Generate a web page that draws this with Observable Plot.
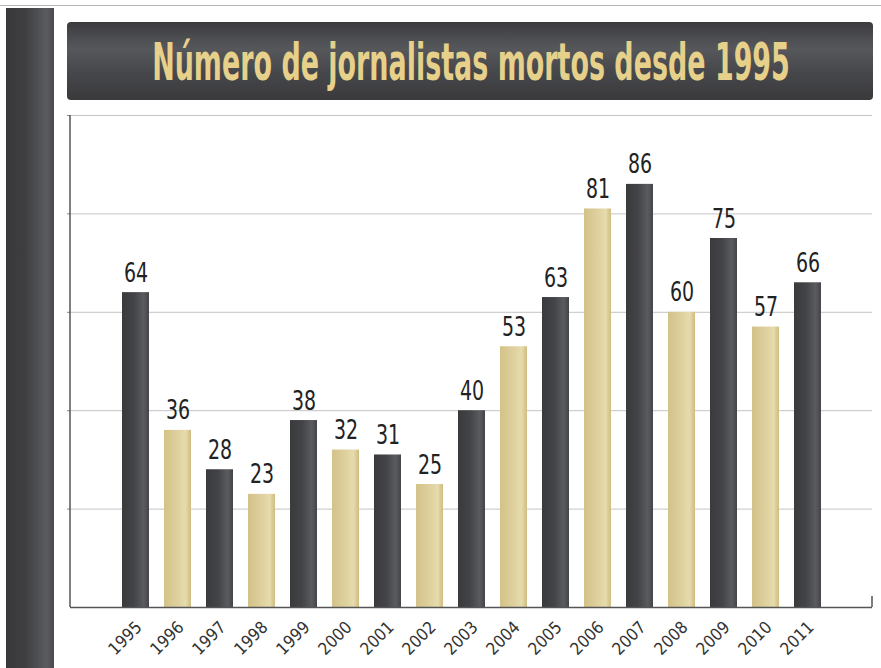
<!DOCTYPE html>
<html>
<head>
<meta charset="utf-8">
<script src="https://cdn.jsdelivr.net/npm/d3@7"></script>
<script src="https://cdn.jsdelivr.net/npm/@observablehq/plot@0.6"></script>
<style>
  html, body { margin: 0; padding: 0; background: #fff; }
  #wrap { position: relative; width: 881px; height: 668px; overflow: hidden; background: #fff; }
  #topline { position: absolute; left: 0; top: 5px; width: 881px; height: 1px; background: #b5b5b5; }
  #sidebar { position: absolute; left: 6px; top: 8px; width: 48px; height: 670px;
    background: linear-gradient(to right, #38383b 0%, #3f3f42 40%, #5b5c60 85%, #4a4a4d 100%); }
  #banner { position: absolute; left: 67px; top: 22px; width: 806px; height: 78px; border-radius: 4px;
    background: linear-gradient(to bottom, #3b3b3e 0%, #505155 25%, #56575b 35%, #46474a 65%, #3a3a3d 100%); }
  #banner svg { position: absolute; left: 0; top: 0; overflow: visible; }
  #chart { position: absolute; left: 0; top: 0; }
</style>
</head>
<body>
<div id="wrap">
  <div id="topline"></div>
  <div id="sidebar"></div>
  <div id="banner">
    <svg width="806" height="78">
      <text id="title" x="0" y="0" text-anchor="middle"
        font-family="'DejaVu Sans Condensed', sans-serif" font-weight="bold" font-size="30" fill="#e6d08a">Número de jornalistas mortos desde 1995</text>
    </svg>
  </div>
  <div id="chart"></div>
</div>
<script>
const years = ["1995","1996","1997","1998","1999","2000","2001","2002","2003","2004","2005","2006","2007","2008","2009","2010","2011"];
const values = [64,36,28,23,38,32,31,25,40,53,63,81,86,60,75,57,66];
const gridTicks = [20,40,60,80,100];

const data = years.map((y, i) => ({year: y, value: values[i], kind: i % 2 === 0 ? "dark" : "gold"}));

const defs = () => {
  const g = d3.create("svg:defs");
  g.html(`
    <linearGradient id="gDark" x1="0" x2="1" y1="0" y2="0">
      <stop offset="0" stop-color="#3a3a3d"/>
      <stop offset="0.45" stop-color="#434447"/>
      <stop offset="0.8" stop-color="#5a5b5f"/>
      <stop offset="1" stop-color="#444548"/>
    </linearGradient>
    <linearGradient id="gGold" x1="0" x2="1" y1="0" y2="0">
      <stop offset="0" stop-color="#d3c288"/>
      <stop offset="0.45" stop-color="#ddcf9c"/>
      <stop offset="0.8" stop-color="#e6dbad"/>
      <stop offset="1" stop-color="#cfbd80"/>
    </linearGradient>`);
  return g.node();
};

const frameLines = (index, scales, values, dims) => {
  const g = d3.create("svg:g");
  const x0 = dims.marginLeft, y0 = dims.marginTop, y1 = dims.height - dims.marginBottom;
  const xr = dims.width - dims.marginRight;
  g.append("line").attr("x1", x0).attr("x2", x0).attr("y1", y0).attr("y2", y1)
    .attr("stroke", "#555").attr("stroke-width", 1.5);
  g.append("line").attr("x1", xr).attr("x2", xr).attr("y1", y1 - 11).attr("y2", y1)
    .attr("stroke", "#555").attr("stroke-width", 1.5);
  return g.node();
};

const font = "'DejaVu Sans Condensed', sans-serif";

const chart = Plot.plot({
  width: 881,
  height: 668,
  marginTop: 115,
  marginLeft: 70,
  marginRight: 9,
  marginBottom: 61,
  style: {background: "transparent", fontFamily: font, fontSize: "17px"},
  x: {domain: years, range: [112.35, 831.5], paddingInner: 0.36, paddingOuter: 0.18, label: null},
  y: {domain: [0, 100], label: null},
  marks: [
    defs,
    Plot.gridY(gridTicks, {stroke: "#c4c4c4", strokeOpacity: 1, strokeWidth: 1}),
    Plot.axisY(gridTicks, {tickSize: 3, tickFormat: () => "", stroke: "#888", label: null}),
    Plot.barY(data.filter(d => d.kind === "dark"), {x: "year", y: "value", fill: "url(#gDark)"}),
    Plot.barY(data.filter(d => d.kind === "gold"), {x: "year", y: "value", fill: "url(#gGold)"}),
    Plot.ruleY([0], {stroke: "#555", strokeWidth: 1.5}),
    frameLines,
    Plot.text(data, {x: "year", y: "value", text: d => String(d.value), lineAnchor: "bottom", dy: -11,
      fontSize: 27, fill: "#222", fontFamily: font, className: "vlabel"}),
    Plot.axisX({tickSize: 0, tickRotate: -45, tickPadding: 6, fontSize: 17, fill: "#333", fontFamily: font, dx: 3, dy: 11, label: null})
  ]
});
document.getElementById("chart").appendChild(chart);

// condense value labels horizontally (narrow typeface look)
d3.select(chart).selectAll(".vlabel text").each(function () {
  const w = this.getComputedTextLength();
  d3.select(this).attr("textLength", w * 0.78).attr("lengthAdjust", "spacingAndGlyphs");
});

// fit title into its measured box
const t = document.getElementById("title");
const tw = t.getComputedTextLength();
const sx = 638 / tw, sy = 37 / (0.729 * 30);
t.setAttribute("transform", `translate(404,58) scale(${sx},${sy})`);
</script>
</body>
</html>
